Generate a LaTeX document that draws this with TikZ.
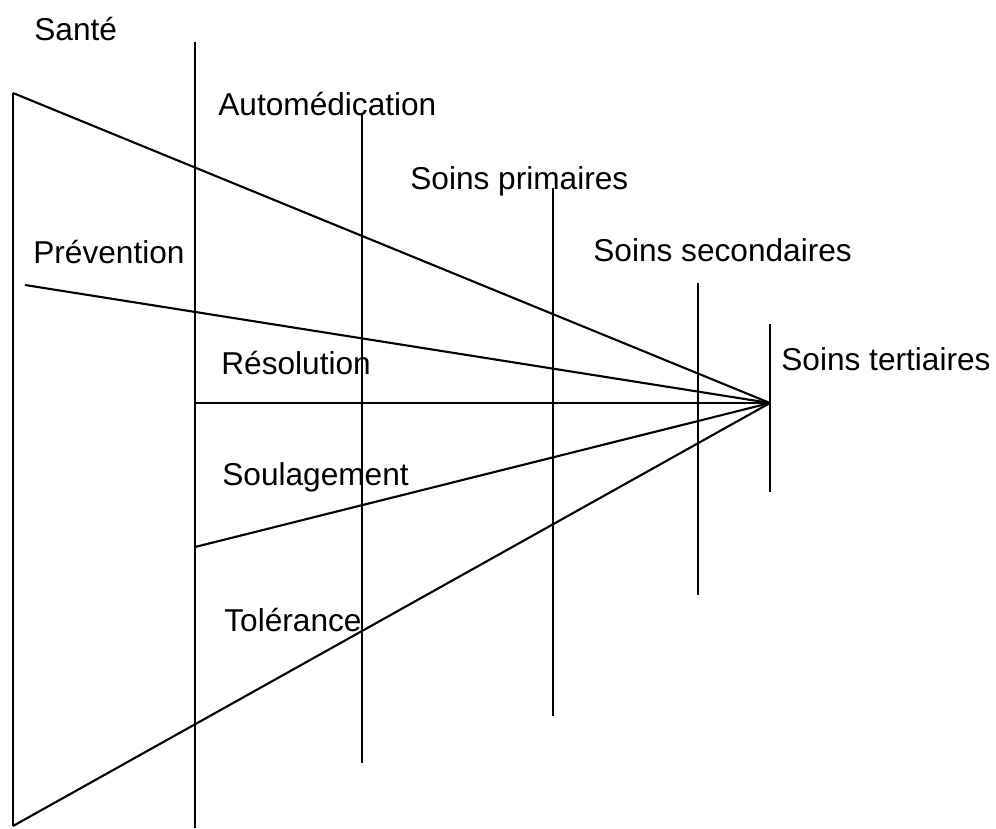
\documentclass[tikz,border=0pt]{standalone}
\usepackage{fontspec}
\setmainfont{Liberation Sans}

\begin{document}
\begin{tikzpicture}[x=0.02cm, y=-0.02cm,
        bar/.style={line width=1.2pt, black},
        ray/.style={line width=1.2pt, black},
        lbl/.style={anchor=base west, inner sep=0pt, font=\fontsize{18}{21}\selectfont}]
    \useasboundingbox (0, 0) rectangle (996, 828);

    % levels of care
    \coordinate (santeTop) at (13, 93);
    \coordinate (santeBot) at (13, 826);
    \coordinate (autoTop) at (195, 42);
    \coordinate (autoBot) at (195, 828);
    \coordinate (primTop) at (362, 113);
    \coordinate (primBot) at (362, 763);
    \coordinate (secTop) at (553, 188);
    \coordinate (secBot) at (553, 716);
    \coordinate (terTop) at (698, 283);
    \coordinate (terBot) at (698, 595);
    \coordinate (endTop) at (770, 324);
    \coordinate (endBot) at (770, 492);
    \coordinate (tip) at (770, 403);

    \draw [bar] (santeTop) -- (santeBot);
    \draw [bar] (autoTop) -- (autoBot);
    \draw [bar] (primTop) -- (primBot);
    \draw [bar] (secTop) -- (secBot);
    \draw [bar] (terTop) -- (terBot);
    \draw [bar] (endTop) -- (endBot);

    % rays to the point
    \coordinate (prev) at (25, 285);
    \coordinate (reso) at (195, 403);
    \coordinate (soul) at (195, 547);
    \draw [ray] (santeTop) -- (tip);
    \draw [ray] (prev) -- (tip);
    \draw [ray] (reso) -- (tip);
    \draw [ray] (soul) -- (tip);
    \draw [ray] (santeBot) -- (tip);

    \node [lbl] (sante) at (34, 41) {Santé};
    \node [lbl] (automed) at (218, 115) {Automédication};
    \node [lbl] (primaires) at (410, 189) {Soins primaires};
    \node [lbl] (prevention) at (33, 263) {Prévention};
    \node [lbl] (secondaires) at (593, 261) {Soins secondaires};
    \node [lbl] (resolution) at (221, 374) {Résolution};
    \node [lbl] (tertiaires) at (781, 370) {Soins tertiaires};
    \node [lbl] (soulagement) at (222, 485) {Soulagement};
    \node [lbl] (tolerance) at (224, 631) {Tolérance};
\end{tikzpicture}
\end{document}
